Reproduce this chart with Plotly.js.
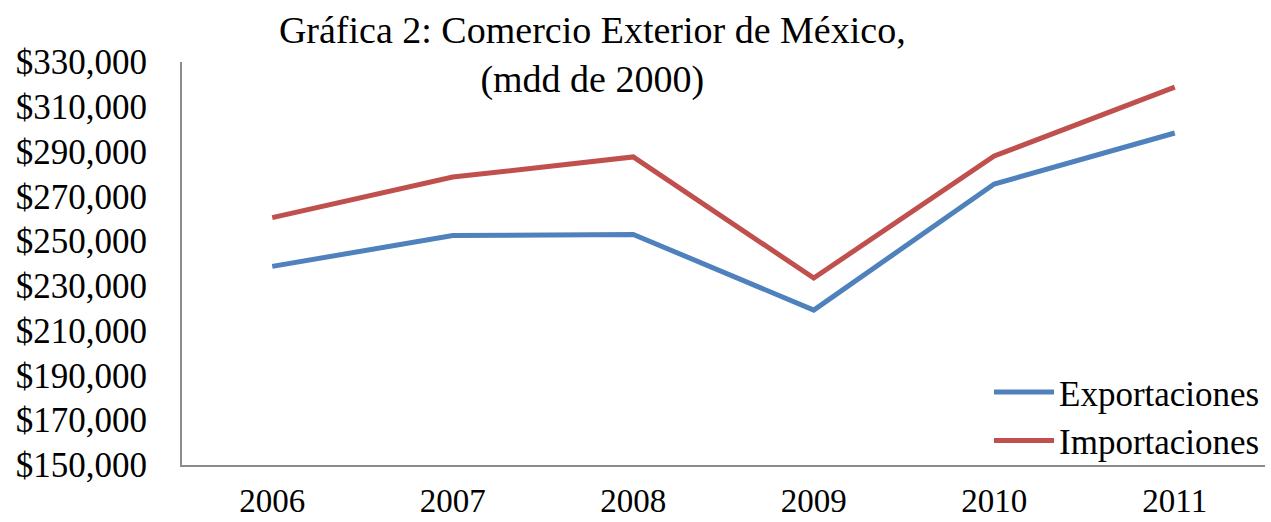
<!DOCTYPE html>
<html>
<head>
<meta charset="utf-8">
<script src="https://cdn.plot.ly/plotly-3.0.1.min.js"></script>
<style>html,body{margin:0;padding:0;background:#fff;}#chart{width:1271px;height:522px;}</style>
</head>
<body>
<div id="chart"></div>
<script>
const years = ["2006", "2007", "2008", "2009", "2010", "2011"];
const exportaciones = [238700, 252500, 253000, 219200, 275500, 298300];
const importaciones = [260500, 278600, 287600, 233500, 288000, 318800];
const seriesNames = ["Exportaciones", "Importaciones"];
const titleText = "Gráfica 2: Comercio Exterior de México,<br>(mdd de 2000)";

const serif = '"Liberation Serif", "Times New Roman", serif';

const traces = [
  {x: years, y: exportaciones, name: seriesNames[0], type: 'scatter', mode: 'lines',
   line: {color: '#4F81BD', width: 5}},
  {x: years, y: importaciones, name: seriesNames[1], type: 'scatter', mode: 'lines',
   line: {color: '#C0504D', width: 5}}
];

const layout = {
  width: 1271, height: 522,
  margin: {l: 182, r: 6, t: 62, b: 57},
  paper_bgcolor: '#fff', plot_bgcolor: '#fff',
  font: {family: serif, color: '#000', size: 35},
  title: {text: titleText, font: {family: serif, size: 38, color: '#000'},
          xref: 'container', x: 0.466, xanchor: 'center',
          yref: 'container', y: 0.918, yanchor: 'top'},
  showlegend: true,
  legend: {x: 1, xanchor: 'right', y: -0.012, yanchor: 'bottom', bgcolor: 'rgba(0,0,0,0)',
           font: {family: serif, size: 35, color: '#000'}, tracegroupgap: 0, itemwidth: 60},
  xaxis: {type: 'category', range: [-0.5, 5.5], showgrid: false, zeroline: false,
          showline: true, linecolor: '#8c8c8c', linewidth: 2, ticks: '',
          ticklabelstandoff: 5, tickfont: {family: serif, size: 33, color: '#000'}},
  yaxis: {range: [150000, 330000], tickmode: 'linear', tick0: 150000, dtick: 20000,
          tickprefix: '$', tickformat: ',d', showgrid: false, zeroline: false,
          showline: true, linecolor: '#8c8c8c', linewidth: 2, ticks: '',
          ticklabelstandoff: 26, tickfont: {family: serif, size: 35, color: '#000'}}
};

Plotly.newPlot('chart', traces, layout, {displayModeBar: false, staticPlot: true});
</script>
</body>
</html>
